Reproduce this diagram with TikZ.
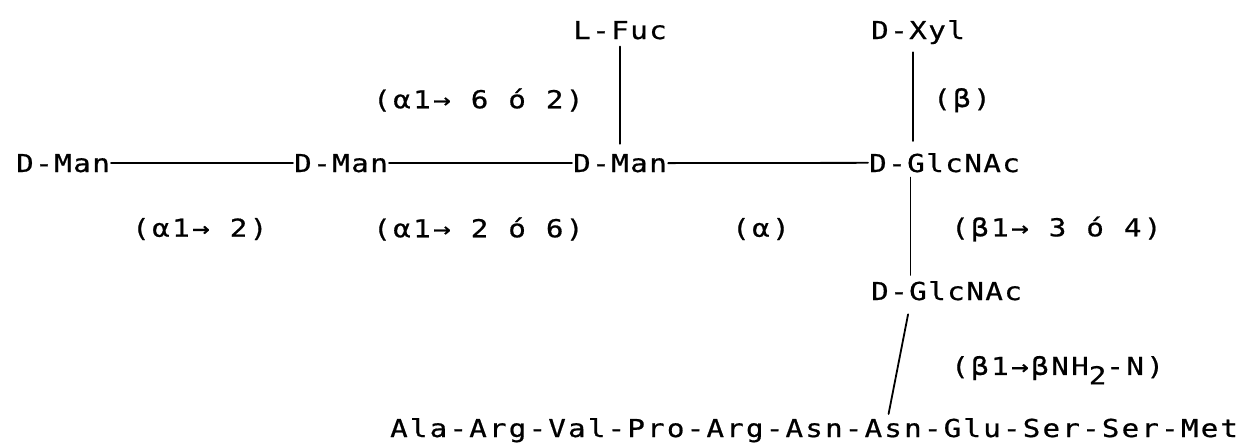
\documentclass[tikz,border=0pt]{standalone}
\usepackage{fontspec}
\newfontfamily\typer[FakeStretch=1.18,FakeBold=0.7,LetterSpace=6]{DejaVu Sans Mono}
\newfontfamily\typerwide[FakeStretch=1.18,FakeBold=0.7,LetterSpace=9]{DejaVu Sans Mono}
\newfontfamily\typerlink[FakeStretch=1.18,FakeBold=0.7,LetterSpace=10]{DejaVu Sans Mono}
\usetikzlibrary{positioning}
\newcommand{\lowtwo}{\raisebox{-.38em}{2}}

\begin{document}
\begin{tikzpicture}[x=1pt,y=-1pt,line cap=round,
  sugar/.style={font=\typer\fontsize{24.7}{28}\selectfont,inner sep=1pt,anchor=base west},
  link/.style={sugar,anchor=west,font=\typerlink\fontsize{24.7}{28}\selectfont},
  chain/.style={sugar,font=\typerwide\fontsize{24.7}{28}\selectfont},
  bond/.style={line width=1.8pt,black}]
\path[use as bounding box] (0,0) rectangle (1251,445);
\fill[white] (0,0) rectangle (1251,445);
% residues
\node[sugar] (man1) at (15,172) {D-Man};
\node[sugar] (man2) at (293,172) {D-Man};
\node[sugar] (man3) at (572,172) {D-Man};
\node[sugar] (glc1) at (868,172) {D-GlcNAc};
\node[sugar] (fuc) at (572,39) {L-Fuc};
\node[sugar] (xyl) at (870,39) {D-Xyl};
\node[sugar] (glc2) at (870,300) {D-GlcNAc};
\node[chain] (pep) at (389,437) {Ala-Arg-Val-Pro-Arg-Asn-Asn-Glu-Ser-Ser-Met};
\coordinate (asn) at ([xshift=499pt]pep.north west);
% linkages
\node[link] (l1) at (131,229) {(α1→ 2)};
\node[link] (l2) at (372,229) {(α1→ 2 ó 6)};
\node[link] (l3) at (731,229) {(α)};
\node[link] (l4) at (950,229) {(β1→ 3 ó 4)};
\node[link] (l5) at (372,100) {(α1→ 6 ó 2)};
\node[link] (l6) at (932,100) {(β)};
\node[link] (l7) at (950,370) {(β1→βNH\lowtwo-N)};
% bonds
\draw[bond] (man1) -- (man2);
\draw[bond] (man2) -- (man3);
\draw[bond] (man3) -- (glc1);
\draw[bond,shorten <=6pt,shorten >=9pt] (fuc) -- (man3);
\draw[bond,shorten <=7pt,shorten >=11pt] ([xshift=-5pt]xyl.south) -- ([xshift=-5pt]xyl.south |- glc1.north);
\draw[bond,shorten <=4pt,shorten >=5pt] ([xshift=-36pt]glc2.north |- glc1.south) -- ([xshift=-36pt]glc2.north);
\draw[bond,shorten <=13pt,shorten >=3pt] ([xshift=-36pt]glc2.south) -- (asn);
\end{tikzpicture}
\end{document}
